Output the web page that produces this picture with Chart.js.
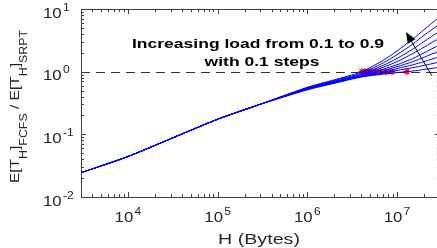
<!DOCTYPE html>
<html>
<head>
<script src="https://cdn.jsdelivr.net/npm/chart.js@4.4.0/dist/chart.umd.min.js"></script>
<style>
  body { margin: 0; overflow: hidden; background: #fff; }
  #wrap { width: 445px; height: 248px; }
</style>
</head>
<body>
<div id="wrap"><canvas id="myChart"></canvas></div>
<script>
// H values (bytes) where the curves were read
const hValues = [3e3, 1e4, 3e4, 1e5, 3e5, 1e6, 2e6, 4e6, 7e6, 1e7, 1.5e7, 2e7, 3e7];
const loads = ["0.1", "0.2", "0.3", "0.4", "0.5", "0.6", "0.7", "0.8", "0.9"];

// E[T]_FCFS / E[T]_SRPT for each load
const ratio01 = [0.0244, 0.0442, 0.0851, 0.174, 0.302, 0.513, 0.653, 0.822, 0.912, 0.966, 1.023, 1.084, 1.175];
const ratio02 = [0.0244, 0.0442, 0.0851, 0.174, 0.302, 0.519, 0.661, 0.832, 0.944, 1.047, 1.161, 1.259, 1.429];
const ratio03 = [0.0244, 0.0442, 0.0851, 0.174, 0.302, 0.525, 0.668, 0.841, 0.977, 1.122, 1.288, 1.445, 1.738];
const ratio04 = [0.0244, 0.0442, 0.0851, 0.174, 0.302, 0.531, 0.676, 0.851, 1.035, 1.202, 1.445, 1.698, 2.138];
const ratio05 = [0.0244, 0.0442, 0.0851, 0.174, 0.302, 0.537, 0.684, 0.861, 1.096, 1.288, 1.622, 1.995, 2.692];
const ratio06 = [0.0244, 0.0442, 0.0851, 0.174, 0.302, 0.543, 0.692, 0.891, 1.175, 1.445, 1.950, 2.455, 3.467];
const ratio07 = [0.0244, 0.0442, 0.0851, 0.174, 0.302, 0.550, 0.708, 0.912, 1.259, 1.622, 2.291, 3.020, 4.467];
const ratio08 = [0.0244, 0.0442, 0.0851, 0.174, 0.302, 0.556, 0.724, 0.944, 1.380, 1.862, 2.754, 3.802, 5.754];
const ratio09 = [0.0244, 0.0442, 0.0851, 0.174, 0.302, 0.562, 0.741, 0.993, 1.514, 2.138, 3.311, 4.677, 7.586];
const ratios = [ratio01, ratio02, ratio03, ratio04, ratio05, ratio06, ratio07, ratio08, ratio09];

// H where each curve crosses ratio 1 (red stars)
const crossH = [1.29e7, 8.79e6, 7.55e6, 6.47e6, 5.70e6, 5.14e6, 4.76e6, 4.41e6, 4.07e6];
const refLevel = 1;

// axis ranges and tick exponents
const xMin = 3e3, xMax = 3e7;
const yMin = 1e-2, yMax = 1e1;
const xTickExp = ["4", "5", "6", "7"];
const yTickExp = ["-2", "-1", "0", "1"];

// annotation text and arrow (data coordinates)
const noteLines = ["Increasing load from 0.1 to 0.9", "with 0.1 steps"];
const arrowFrom = { x: 2.45e7, y: 0.86 };
const arrowTo = { x: 1.26e7, y: 4.3 };

const FONT = '"Liberation Sans", Arial, sans-serif';
const TXT = '#262626';
const AX = '#404040';

const datasets = ratios.map((r, i) => ({
  label: 'load ' + loads[i],
  data: hValues.map((h, j) => ({ x: h, y: r[j] })),
  borderColor: '#0000ff',
  borderWidth: 1,
  pointRadius: 0,
  tension: 0.25,
  fill: false
}));
datasets.push({
  label: 'crossing',
  data: crossH.map(h => ({ x: h, y: refLevel })),
  showLine: false,
  pointStyle: 'star',
  pointRadius: 3.5,
  borderColor: '#ff0000',
  backgroundColor: '#ff0000',
  borderWidth: 1.2
});

function powLabel(ctx, exp, x0, base, align) {
  const sx = 1.2;
  ctx.font = '14px ' + FONT;
  const w1 = ctx.measureText('10').width;
  ctx.font = '10px ' + FONT;
  const w2 = ctx.measureText(exp).width;
  const total = (w1 + 1 + w2) * sx;
  const left = align === 'center' ? x0 - total / 2 : x0;
  ctx.save();
  ctx.translate(left, base);
  ctx.scale(sx, 1);
  ctx.fillStyle = TXT;
  ctx.textAlign = 'left';
  ctx.textBaseline = 'alphabetic';
  ctx.font = '14px ' + FONT;
  ctx.fillText('10', 0, 0);
  ctx.font = '10px ' + FONT;
  ctx.fillText(exp, w1 + 1, -7);
  ctx.restore();
}

function stretchedText(ctx, text, cx, base, font, width, color) {
  ctx.font = font;
  const w = ctx.measureText(text).width;
  ctx.save();
  ctx.translate(cx, base);
  ctx.scale(width / w, 1);
  ctx.textAlign = 'center';
  ctx.textBaseline = 'alphabetic';
  ctx.fillStyle = color || '#000';
  ctx.fillText(text, 0, 0);
  ctx.restore();
}

const matlabAxes = {
  id: 'matlabAxes',
  beforeDatasetsDraw(chart) {
    const { ctx, chartArea: a, scales: { y } } = chart;
    const py = Math.round(y.getPixelForValue(refLevel)) + 0.5;
    ctx.save();
    ctx.strokeStyle = '#333';
    ctx.lineWidth = 1;
    ctx.setLineDash([9, 6]);
    ctx.beginPath();
    ctx.moveTo(a.left, py);
    ctx.lineTo(a.right, py);
    ctx.stroke();
    ctx.restore();
  },
  afterDatasetsDraw(chart) {
    const { ctx, chartArea: a, scales: { x, y } } = chart;
    ctx.save();
    ctx.strokeStyle = AX;
    ctx.lineWidth = 1;
    ctx.beginPath();
    // box
    ctx.moveTo(a.left + 0.5, a.top + 0.5); ctx.lineTo(a.left + 0.5, a.bottom + 0.5);
    ctx.lineTo(a.right + 0.5, a.bottom + 0.5); ctx.lineTo(a.right + 0.5, a.top + 0.5);
    ctx.closePath();
    // x ticks
    for (let e = 3; e <= 7; e++) {
      for (let m = 1; m <= 9; m++) {
        const v = m * Math.pow(10, e);
        if (v < xMin || v > xMax) continue;
        const px = Math.round(x.getPixelForValue(v)) + 0.5;
        const len = m === 1 ? 5 : 3;
        ctx.moveTo(px, a.bottom); ctx.lineTo(px, a.bottom - len);
        ctx.moveTo(px, a.top); ctx.lineTo(px, a.top + len);
      }
    }
    // y ticks
    for (let e = -2; e <= 1; e++) {
      for (let m = 1; m <= 9; m++) {
        const v = m * Math.pow(10, e);
        if (v < yMin || v > yMax) continue;
        const py = Math.round(y.getPixelForValue(v)) + 0.5;
        const len = m === 1 ? 5 : 3;
        ctx.moveTo(a.left, py); ctx.lineTo(a.left + len, py);
        ctx.moveTo(a.right, py); ctx.lineTo(a.right - len, py);
      }
    }
    ctx.stroke();
    ctx.restore();

    // tick labels
    xTickExp.forEach(ex => {
      const px = x.getPixelForValue(Math.pow(10, +ex));
      powLabel(ctx, ex, px, a.bottom + 25, 'center');
    });
    yTickExp.forEach(ex => {
      const py = y.getPixelForValue(Math.pow(10, +ex));
      powLabel(ctx, ex, 43, py + 8.5, 'left');
    });

    // x axis title
    stretchedText(ctx, 'H (Bytes)', 259, 244, '14px ' + FONT, 82, TXT);

    // y axis title, rotated, with subscripts
    const parts = [
      ['E[T', 0], ['H', 1], [']', 0], ['FCFS', 1], [' / E[T', 0], ['H', 1], [']', 0], ['SRPT', 1]
    ];
    const mainF = '12.5px ' + FONT, subF = '10px ' + FONT;
    let total = 0;
    parts.forEach(p => { ctx.font = p[1] ? subF : mainF; total += ctx.measureText(p[0]).width; });
    ctx.save();
    ctx.translate(18.5, 183);
    ctx.rotate(-Math.PI / 2);
    ctx.scale(153 / total, 1);
    ctx.fillStyle = TXT;
    ctx.textBaseline = 'alphabetic';
    let cx = 0;
    parts.forEach(p => {
      ctx.font = p[1] ? subF : mainF;
      ctx.fillText(p[0], cx, p[1] ? 8 : 0);
      cx += ctx.measureText(p[0]).width;
    });
    ctx.restore();

    // annotation
    stretchedText(ctx, noteLines[0], 258, 48, 'bold 13.5px ' + FONT, 252);
    ctx.font = 'bold 13.5px ' + FONT;
    const k = 252 / ctx.measureText(noteLines[0]).width;
    stretchedText(ctx, noteLines[1], 262, 66, 'bold 13.5px ' + FONT, ctx.measureText(noteLines[1]).width * k);

    // arrow
    const x0 = x.getPixelForValue(arrowFrom.x), y0 = y.getPixelForValue(arrowFrom.y);
    const x1 = x.getPixelForValue(arrowTo.x), y1 = y.getPixelForValue(arrowTo.y);
    const ang = Math.atan2(y1 - y0, x1 - x0);
    ctx.save();
    ctx.strokeStyle = '#000';
    ctx.fillStyle = '#000';
    ctx.lineWidth = 1;
    ctx.beginPath();
    ctx.moveTo(x0, y0);
    ctx.lineTo(x1 - 8 * Math.cos(ang), y1 - 8 * Math.sin(ang));
    ctx.stroke();
    ctx.beginPath();
    ctx.moveTo(x1, y1);
    ctx.lineTo(x1 - 11 * Math.cos(ang) + 4.5 * Math.sin(ang), y1 - 11 * Math.sin(ang) - 4.5 * Math.cos(ang));
    ctx.lineTo(x1 - 11 * Math.cos(ang) - 4.5 * Math.sin(ang), y1 - 11 * Math.sin(ang) + 4.5 * Math.cos(ang));
    ctx.closePath();
    ctx.fill();
    ctx.restore();
  }
};

new Chart('myChart', {
  type: 'line',
  data: { datasets: datasets },
  options: {
    responsive: true,
    maintainAspectRatio: false,
    animation: false,
    layout: { padding: { left: 81, top: 9, right: 4, bottom: 51 } },
    plugins: { legend: { display: false }, tooltip: { enabled: false } },
    scales: {
      x: { type: 'logarithmic', min: xMin, max: xMax, display: false },
      y: { type: 'logarithmic', min: yMin, max: yMax, display: false }
    }
  },
  plugins: [matlabAxes]
});
</script>
</body>
</html>
